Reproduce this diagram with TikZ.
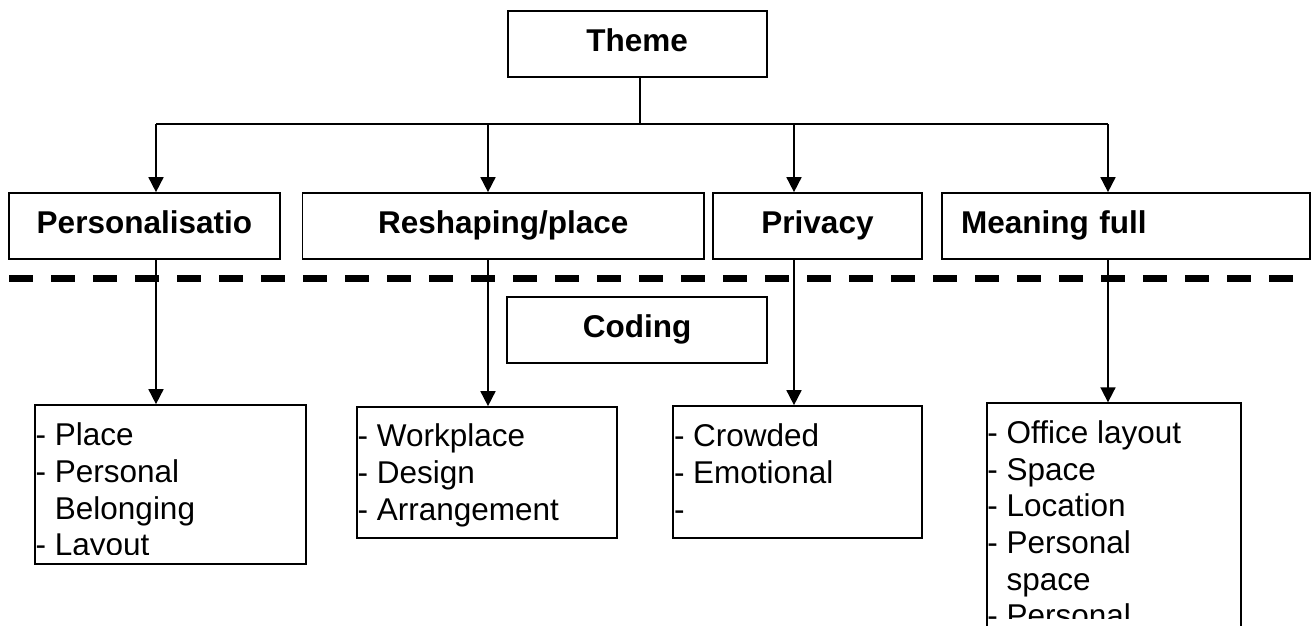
\documentclass[tikz,border=0pt]{standalone}
\usepackage{fontspec}
\setmainfont{Liberation Sans}
\usetikzlibrary{arrows.meta}
\newcommand{\mylines}[1]{\vtop{\halign{##\hfil\cr#1\crcr}}}
\begin{document}
\begin{tikzpicture}[x=1pt,y=-1pt,
  hbox/.style={draw, line width=1.7pt, inner sep=0pt,
    font=\fontsize{31.5}{36.7}\selectfont\bfseries,
    text height=40.5pt, text depth=25.5pt},
  lbox/.style={draw, line width=1.7pt, inner sep=0pt},
  ltext/.style={anchor=base west, inner sep=0pt,
    font=\fontsize{31.5}{36.7}\selectfont},
  conn/.style={line width=1.7pt},
  arr/.style={conn, -{Triangle[length=15pt,width=15pt]}},
  sep/.style={line width=7pt, dash pattern=on 24pt off 18pt}
]
\fill[white] (0,0) rectangle (1312,625);
\useasboundingbox (0,0) rectangle (1312,625);
\clip (0,0) rectangle (1312,625);

% header boxes
\node[hbox, minimum width=259pt] (theme) at (637.2,43.9) {Theme};
\node[hbox, minimum width=271.3pt] (pers) at (144.4,226) {Personalisatio};
\node[hbox, minimum width=401.4pt] (resh) at (503.3,226) {Reshaping/place};
\node[hbox, minimum width=209pt] (priv) at (817.5,226) {Privacy};
\node[hbox, inner xsep=19pt, text width=330pt, align=left] (mean) at (1126,226) {Meaning full};
\node[hbox, minimum width=259.4pt] (coding) at (637,330) {Coding};

% separator
\draw[sep] (9,278.7) -- (1293,278.7);

% list boxes
\node[lbox, minimum width=271pt, minimum height=159pt] (l1) at (170.5,484.5) {};
\node[lbox, minimum width=259.7pt, minimum height=131pt] (l2) at (486.9,472.5) {};
\node[lbox, minimum width=249pt, minimum height=132pt] (l3) at (797.8,472) {};
\node[lbox, minimum width=254pt, minimum height=277pt] (l4) at (1113.7,541.7) {};

\begin{scope}
\clip (35,405) rectangle (306,554);
\node[ltext] (t1) at (35.5,445.7) {\mylines{- Place\cr- Personal\cr\phantom{-}\ Belonging\cr- Layout}};
\end{scope}
\node[ltext] (t2) at (357.5,446.7) {\mylines{- Workplace\cr- Design\cr- Arrangement}};
\node[ltext] (t3) at (673.8,446.7) {\mylines{- Crowded\cr- Emotional\cr-}};
\begin{scope}
\clip (986.7,403.3) rectangle (1240.7,618);
\node[ltext] (t4) at (987.2,443.3) {\mylines{- Office layout\cr- Space\cr- Location\cr- Personal\cr\phantom{-}\ space\cr- Personal}};
\end{scope}

% connectors
\coordinate (jt) at (640,124);
\coordinate (ja) at (156,124);
\coordinate (jb) at (488,124);
\coordinate (jc) at (794,124);
\coordinate (jd) at (1108,124);
\draw[conn] (jt |- theme.south) -- (jt);
\draw[conn, line cap=square] (ja) -- (jd);
\draw[arr] (ja) -- (ja |- pers.north);
\draw[arr] (jb) -- (jb |- resh.north);
\draw[arr] (jc) -- (jc |- priv.north);
\draw[arr] (jd) -- (jd |- mean.north);
\draw[arr] (ja |- pers.south) -- (ja |- l1.north);
\draw[arr] (jb |- resh.south) -- (jb |- l2.north);
\draw[arr] (jc |- priv.south) -- (jc |- l3.north);
\draw[arr] (jd |- mean.south) -- (jd |- l4.north);
\end{tikzpicture}
\end{document}
